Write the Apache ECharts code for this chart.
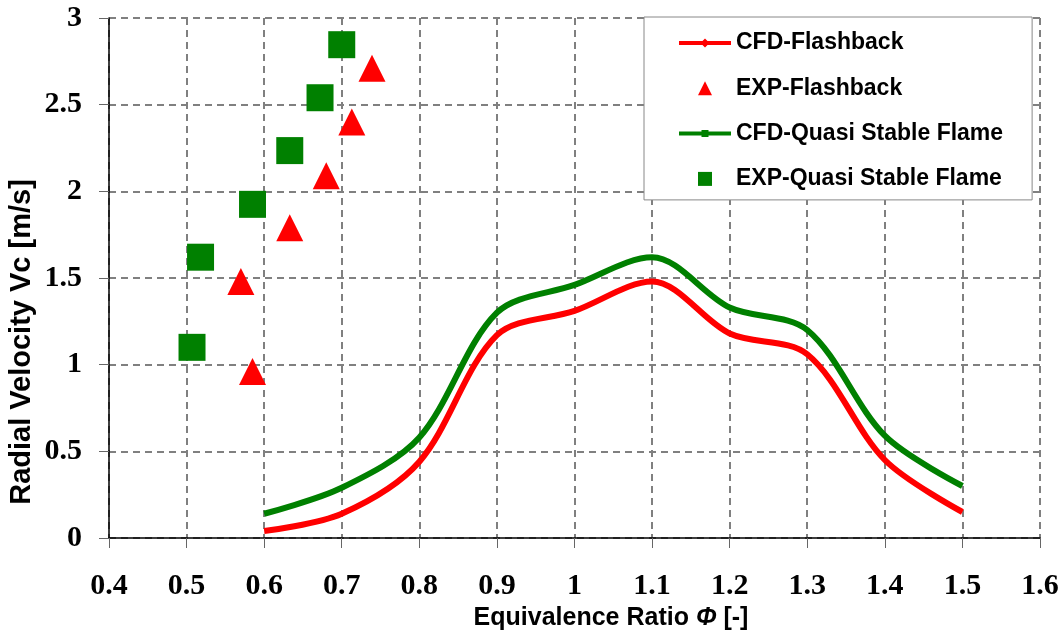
<!DOCTYPE html>
<html>
<head>
<meta charset="utf-8">
<script src="https://cdn.jsdelivr.net/npm/echarts@6/dist/echarts.min.js"></script>
<style>
  html, body { margin: 0; padding: 0; background: #fff; }
  #chart { width: 1064px; height: 643px; }
</style>
</head>
<body>
<div id="chart"></div>
<script>
// Equivalence ratio (x) and radial velocity Vc in m/s (y)
const phiCfd = [0.6, 0.7, 0.8, 0.9, 1.0, 1.1, 1.2, 1.3, 1.4, 1.5];
const vcCfdFlashback = [0.04, 0.14, 0.44, 1.17, 1.31, 1.48, 1.18, 1.06, 0.45, 0.15];
const vcCfdQuasi = [0.14, 0.29, 0.58, 1.30, 1.46, 1.62, 1.33, 1.20, 0.59, 0.30];

const phiExpFlashback = [0.585, 0.570, 0.633, 0.680, 0.713, 0.739];
const vcExpFlashback = [0.96, 1.48, 1.79, 2.09, 2.40, 2.71];

const phiExpQuasi = [0.507, 0.518, 0.585, 0.633, 0.672, 0.700];
const vcExpQuasi = [1.10, 1.62, 1.925, 2.235, 2.54, 2.846];

const seriesNames = ['CFD-Flashback', 'EXP-Flashback', 'CFD-Quasi Stable Flame', 'EXP-Quasi Stable Flame'];

const pairs = (xs, ys) => xs.map((x, i) => [x, ys[i]]);

const RED = '#ff0000';
const GREEN = '#008000';
const serifFont = '"Liberation Serif", "Times New Roman", serif';
const sansFont = '"Liberation Sans", Arial, sans-serif';

// Legend icons: a 52x24 box (the leading moves fix the box size)
const iconBox = 'M0 0M52 24';
const legendIcons = [
  'path://' + iconBox + 'M0 10L52 10L52 14L0 14ZM26 7.5L30.5 12L26 16.5L21.5 12Z',
  'path://' + iconBox + 'M26 5L33 19L19 19Z',
  'path://' + iconBox + 'M0 10L52 10L52 14L0 14ZM22.5 8.5L29.5 8.5L29.5 15.5L22.5 15.5Z',
  'path://' + iconBox + 'M19 5L33 5L33 19L19 19Z'
];

const gridLine = { show: true, lineStyle: { color: '#808080', width: 2, type: [7, 5] } };

const chart = echarts.init(document.getElementById('chart'), null, { renderer: 'canvas' });

chart.setOption({
  animation: false,
  backgroundColor: '#fff',
  grid: { left: 109, right: 24, top: 18, bottom: 105, containLabel: false },
  xAxis: {
    type: 'value',
    min: 0.4, max: 1.6, interval: 0.1,
    axisLine: { show: true, onZero: false, lineStyle: { color: '#000', width: 1.5 } },
    axisTick: { show: true, inside: false, length: 10, lineStyle: { color: '#666', width: 1 } },
    axisLabel: {
      margin: 33,
      color: '#000',
      fontFamily: serifFont, fontWeight: 'bold', fontSize: 30,
      formatter: v => String(Math.round(v * 10) / 10)
    },
    splitLine: gridLine
  },
  yAxis: {
    type: 'value',
    min: 0, max: 3, interval: 0.5,
    axisLine: { show: true, onZero: false, lineStyle: { color: '#000', width: 1.5 } },
    axisTick: { show: true, inside: false, length: 10, lineStyle: { color: '#666', width: 1 } },
    axisLabel: {
      margin: 27,
      color: '#000',
      fontFamily: serifFont, fontWeight: 'bold', fontSize: 30,
      formatter: v => String(Math.round(v * 10) / 10)
    },
    splitLine: gridLine
  },
  legend: {
    orient: 'vertical',
    left: 644, top: 17,
    padding: [14, 29, 9, 35],
    itemWidth: 52, itemHeight: 24, itemGap: 21.3,
    borderColor: '#888', borderWidth: 1,
    backgroundColor: '#fff',
    selectedMode: false,
    textStyle: { color: '#000', fontFamily: sansFont, fontWeight: 'bold', fontSize: 23 },
    data: seriesNames.map((name, i) => ({ name, icon: legendIcons[i] }))
  },
  graphic: [
    {
      type: 'text',
      x: 611, y: 618,
      style: {
        text: 'Equivalence Ratio {p|Φ} [-]',
        fill: '#000',
        font: 'bold 25px ' + sansFont,
        align: 'center', verticalAlign: 'middle',
        rich: { p: { fontStyle: 'italic', fontWeight: 'bold', fontSize: 25, fontFamily: sansFont } }
      }
    },
    {
      type: 'text',
      x: 22, y: 342,
      rotation: Math.PI / 2,
      style: {
        text: 'Radial Velocity Vc [m/s]',
        fill: '#000',
        font: 'bold 29px ' + sansFont,
        align: 'center', verticalAlign: 'middle'
      }
    }
  ],
  series: [
    {
      name: seriesNames[0],
      type: 'line',
      data: pairs(phiCfd, vcCfdFlashback),
      smooth: 0.32,
      showSymbol: false,
      symbol: 'diamond',
      color: RED,
      lineStyle: { color: RED, width: 6 },
      z: 3
    },
    {
      name: seriesNames[1],
      type: 'scatter',
      data: pairs(phiExpFlashback, vcExpFlashback),
      symbol: 'triangle',
      symbolSize: 27,
      color: RED,
      itemStyle: { color: RED, opacity: 1 },
      z: 4
    },
    {
      name: seriesNames[2],
      type: 'line',
      data: pairs(phiCfd, vcCfdQuasi),
      smooth: 0.32,
      showSymbol: false,
      symbol: 'rect',
      color: GREEN,
      lineStyle: { color: GREEN, width: 6 },
      z: 3
    },
    {
      name: seriesNames[3],
      type: 'scatter',
      data: pairs(phiExpQuasi, vcExpQuasi),
      symbol: 'rect',
      symbolSize: 27,
      color: GREEN,
      itemStyle: { color: GREEN, opacity: 1 },
      z: 4
    }
  ]
});
</script>
</body>
</html>
